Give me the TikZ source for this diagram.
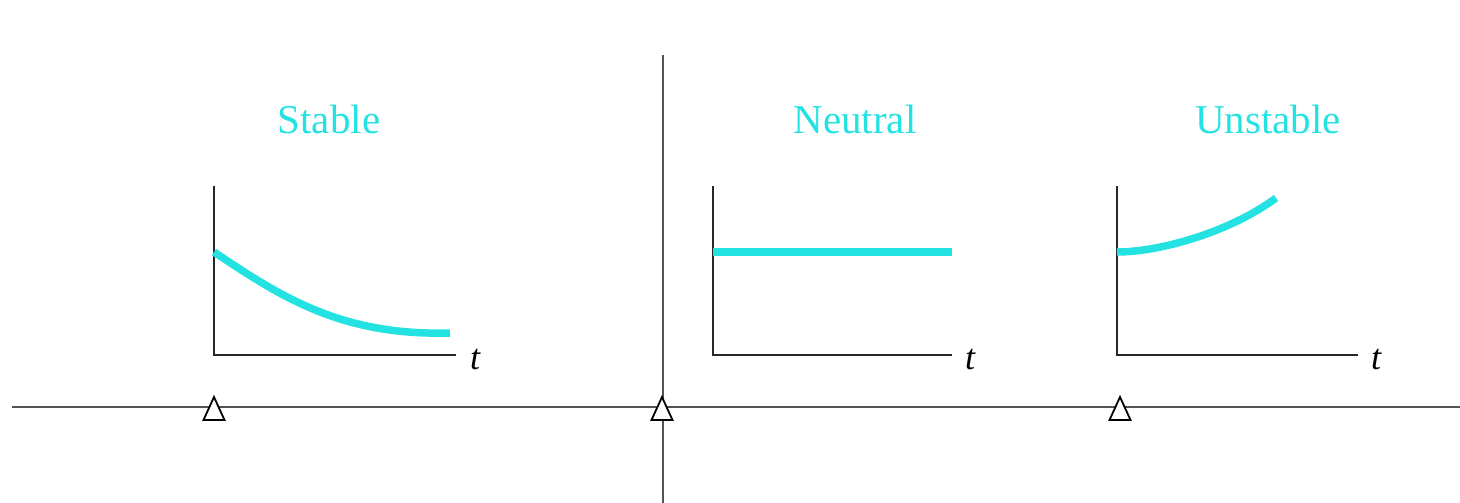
\documentclass[tikz,border=0pt]{standalone}
\usepackage{fontspec}
\setmainfont{Liberation Serif}
\definecolor{aqua}{RGB}{36,226,226}
\definecolor{axisgray}{RGB}{40,40,40}
\begin{document}
\begin{tikzpicture}[x=1pt,y=-1pt,
  axis/.style={draw=axisgray,line width=1.8pt},
  mainline/.style={draw=axisgray!80,line width=1.5pt},
  resp/.style={draw=aqua,line width=7.5pt},
  title/.style={text=aqua,font=\fontsize{41}{41}\selectfont,anchor=base,inner sep=0pt},
  tlab/.style={font=\fontsize{36}{36}\selectfont\itshape,anchor=base,inner sep=0pt},
  pivot/.style={draw=black,line width=1.8pt,fill=white,line join=miter}]
\useasboundingbox (0,0) rectangle (1460,503);
% main axes
\coordinate (hl) at (12,407);
\coordinate (hr) at (1460,407);
\coordinate (vt) at (663,55);
\coordinate (vb) at (663,503);
\draw[mainline] (hl) -- (hr);
\draw[mainline] (vt) -- (vb);
% pivots
\foreach \px/\nm in {214/pa,662/pb,1120/pc}{
  \draw[pivot] (\px,397) -- (\px+10.5,420) -- (\px-10.5,420) -- cycle;
}
% Stable graph
\coordinate (o1) at (214,355);
\coordinate (y1) at (214,186);
\coordinate (x1) at (456,355);
\draw[axis] (y1) -- (o1) -- (x1);
\draw[resp] (214,252) .. controls (280,296) and (340,336) .. (450,333);
\node[tlab] (t1) at (475,369) {t};
\node[title] (s1) at (329,133) {Stable};
% Neutral graph
\coordinate (o2) at (713,355);
\coordinate (y2) at (713,186);
\coordinate (x2) at (952,355);
\draw[axis] (y2) -- (o2) -- (x2);
\draw[resp] (713,252) -- (952,252);
\node[tlab] (t2) at (970,369) {t};
\node[title] (s2) at (855,133) {Neutral};
% Unstable graph
\coordinate (o3) at (1117,355);
\coordinate (y3) at (1117,186);
\coordinate (x3) at (1358,355);
\draw[axis] (y3) -- (o3) -- (x3);
\draw[resp] (1117,252) .. controls (1160,252) and (1230,232) .. (1276,198);
\node[tlab] (t3) at (1376,369) {t};
\node[title] (s3) at (1268,133) {Unstable};
\end{tikzpicture}
\end{document}
